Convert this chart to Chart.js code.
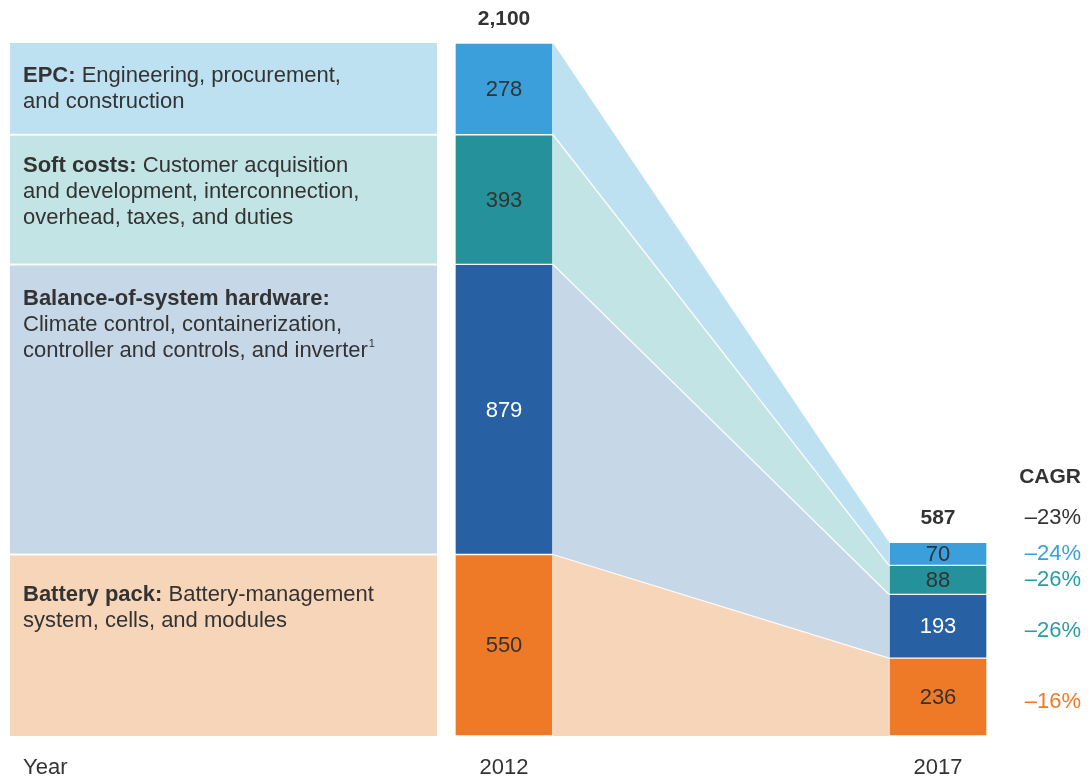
<!DOCTYPE html>
<html>
<head>
<meta charset="utf-8">
<script src="https://cdn.jsdelivr.net/npm/chart.js@4.4.1/dist/chart.umd.min.js"></script>
<style>
  html, body { margin: 0; padding: 0; background: #ffffff; }
  #wrap { width: 1090px; height: 780px; }
</style>
</head>
<body>
<div id="wrap"><canvas id="c" width="1090" height="780"></canvas></div>
<script>
// ---------------- DATA ----------------
const years = [2012, 2017];
const yearAxisLabel = 'Year';
// stacking order: bottom -> top
const segmentKeys = ['battery', 'bos', 'soft', 'epc'];
const batteryPack = [550, 236];
const balanceOfSystem = [879, 193];
const softCosts = [393, 88];
const epcCosts = [278, 70];
const totals = [2100, 587];
const totalLabels = ['2,100', '587'];
const cagrTitle = 'CAGR';
const cagrTotal = '–23%';
const cagrBySegment = ['–16%', '–26%', '–26%', '–24%']; // battery, bos, soft, epc

// Description text: runs of [text, bold]
const descBattery = [
  [['Battery pack:', true], [' Battery-management', false]],
  [['system, cells, and modules', false]]
];
const descBos = [
  [['Balance-of-system hardware:', true]],
  [['Climate control, containerization,', false]],
  [['controller and controls, and inverter', false], ['1', 'sup']]
];
const descSoft = [
  [['Soft costs:', true], [' Customer acquisition', false]],
  [['and development, interconnection,', false]],
  [['overhead, taxes, and duties', false]]
];
const descEpc = [
  [['EPC:', true], [' Engineering, procurement,', false]],
  [['and construction', false]]
];

// ---------------- STYLE ----------------
const FONT = "'Liberation Sans', Arial, Helvetica, sans-serif";
const TEXT = '#333333';
const barColors   = ['#EE7A27', '#2760A3', '#25919B', '#3A9FDA'];
const panelColors = ['#F7D5B9', '#C6D7E7', '#C2E4E5', '#BDE1F1'];
const valueColors = [TEXT, '#FFFFFF', TEXT, TEXT];
const cagrColors  = ['#EE7A27', '#2A9DA3', '#2A9DA3', '#3A9FDA'];
const descFirstLineOffset = [40, 35, 31, 33];
const cagrYOffset = [5, 5, 0, 0];

const seriesValues = [batteryPack, balanceOfSystem, softCosts, epcCosts];
const descriptions = [descBattery, descBos, descSoft, descEpc];

const datasets = seriesValues.map((vals, i) => ({
  label: segmentKeys[i],
  data: years.map((yr, j) => ({ x: yr, y: vals[j] })),
  backgroundColor: barColors[i],
  borderColor: 'rgba(255,255,255,0.55)',
  borderWidth: 1,
  borderSkipped: false,
  barThickness: 98
}));

function barGeom(bar) {
  const p = bar.getProps(['x', 'y', 'base', 'width'], true);
  return { left: p.x - p.width / 2, right: p.x + p.width / 2, top: Math.min(p.y, p.base), bottom: Math.max(p.y, p.base), cx: p.x, cy: (p.y + p.base) / 2 };
}

const flowPlugin = {
  id: 'flow',
  beforeDatasetsDraw(chart) {
    const ctx = chart.ctx;
    const area = chart.chartArea;
    const n = chart.data.datasets.length;
    ctx.save();
    for (let d = 0; d < n; d++) {
      const meta = chart.getDatasetMeta(d);
      const a = barGeom(meta.data[0]);
      const b = barGeom(meta.data[1]);
      // left panel
      ctx.fillStyle = panelColors[d];
      ctx.fillRect(area.left, a.top, (a.left - 18) - area.left, a.bottom - a.top);
      // connector
      ctx.beginPath();
      ctx.moveTo(a.right, a.top);
      ctx.lineTo(b.left, b.top);
      ctx.lineTo(b.left, b.bottom);
      ctx.lineTo(a.right, a.bottom);
      ctx.closePath();
      ctx.fill();
    }
    // white separators
    ctx.strokeStyle = 'rgba(255,255,255,0.9)';
    for (let d = 0; d < n - 1; d++) {
      const meta = chart.getDatasetMeta(d);
      const a = barGeom(meta.data[0]);
      const b = barGeom(meta.data[1]);
      ctx.lineWidth = 2;
      ctx.beginPath();
      ctx.moveTo(area.left, a.top);
      ctx.lineTo(a.left - 18, a.top);
      ctx.stroke();
      ctx.lineWidth = 1.3;
      ctx.beginPath();
      ctx.moveTo(a.right, a.top);
      ctx.lineTo(b.left, b.top);
      ctx.stroke();
    }
    ctx.restore();
  },
  afterDatasetsDraw(chart) {
    const ctx = chart.ctx;
    const area = chart.chartArea;
    const xs = chart.scales.x;
    const n = chart.data.datasets.length;
    ctx.save();
    ctx.textBaseline = 'middle';
    // values inside bars
    for (let d = 0; d < n; d++) {
      const meta = chart.getDatasetMeta(d);
      meta.data.forEach((bar, j) => {
        const g = barGeom(bar);
        ctx.font = '22px ' + FONT;
        ctx.fillStyle = valueColors[d];
        ctx.textAlign = 'center';
        ctx.fillText(String(seriesValues[d][j]), g.cx, g.cy + 1);
      });
    }
    // totals
    const topMeta = chart.getDatasetMeta(n - 1);
    topMeta.data.forEach((bar, j) => {
      const g = barGeom(bar);
      ctx.font = 'bold 21px ' + FONT;
      ctx.fillStyle = TEXT;
      ctx.textAlign = 'center';
      ctx.fillText(totalLabels[j], g.cx, g.top - 24);
    });
    // descriptions
    for (let d = 0; d < n; d++) {
      const g = barGeom(chart.getDatasetMeta(d).data[0]);
      let y = g.top + descFirstLineOffset[d];
      descriptions[d].forEach(line => {
        let x = area.left + 13;
        ctx.textAlign = 'left';
        line.forEach(([txt, style]) => {
          if (style === 'sup') {
            ctx.font = '11px ' + FONT;
            ctx.fillStyle = TEXT;
            ctx.fillText(txt, x + 1, y - 7);
            x += ctx.measureText(txt).width + 1;
          } else {
            ctx.font = (style ? 'bold ' : '') + '22px ' + FONT;
            ctx.fillStyle = TEXT;
            ctx.fillText(txt, x, y);
            x += ctx.measureText(txt).width;
          }
        });
        y += 26;
      });
    }
    // CAGR column
    const cagrX = area.right - 4;
    ctx.textAlign = 'right';
    ctx.font = 'bold 21px ' + FONT;
    ctx.fillStyle = TEXT;
    const g2017Top = barGeom(topMeta.data[1]).top;
    ctx.fillText(cagrTitle, cagrX, g2017Top - 65);
    ctx.font = '22px ' + FONT;
    ctx.fillText(cagrTotal, cagrX, g2017Top - 24);
    for (let d = 0; d < n; d++) {
      const g = barGeom(chart.getDatasetMeta(d).data[1]);
      ctx.fillStyle = cagrColors[d];
      ctx.fillText(cagrBySegment[d], cagrX, g.cy + cagrYOffset[d]);
    }
    // year axis labels
    ctx.font = '22px ' + FONT;
    ctx.fillStyle = TEXT;
    const axisY = area.bottom + 32;
    ctx.textAlign = 'left';
    ctx.fillText(yearAxisLabel, area.left + 13, axisY);
    ctx.textAlign = 'center';
    years.forEach(yr => ctx.fillText(String(yr), xs.getPixelForValue(yr), axisY));
    ctx.restore();
  }
};

new Chart(document.getElementById('c'), {
  type: 'bar',
  data: { datasets },
  options: {
    responsive: false,
    animation: false,
    layout: { padding: { left: 10, right: 5, top: 43, bottom: 44 } },
    scales: {
      x: { type: 'linear', min: 2006.3088, max: 2018.6936, offset: false, stacked: true, display: false, grid: { offset: false } },
      y: { stacked: true, min: 0, max: Math.max(...totals), display: false }
    },
    plugins: { legend: { display: false }, tooltip: { enabled: false } }
  },
  plugins: [flowPlugin]
});
</script>
</body>
</html>
